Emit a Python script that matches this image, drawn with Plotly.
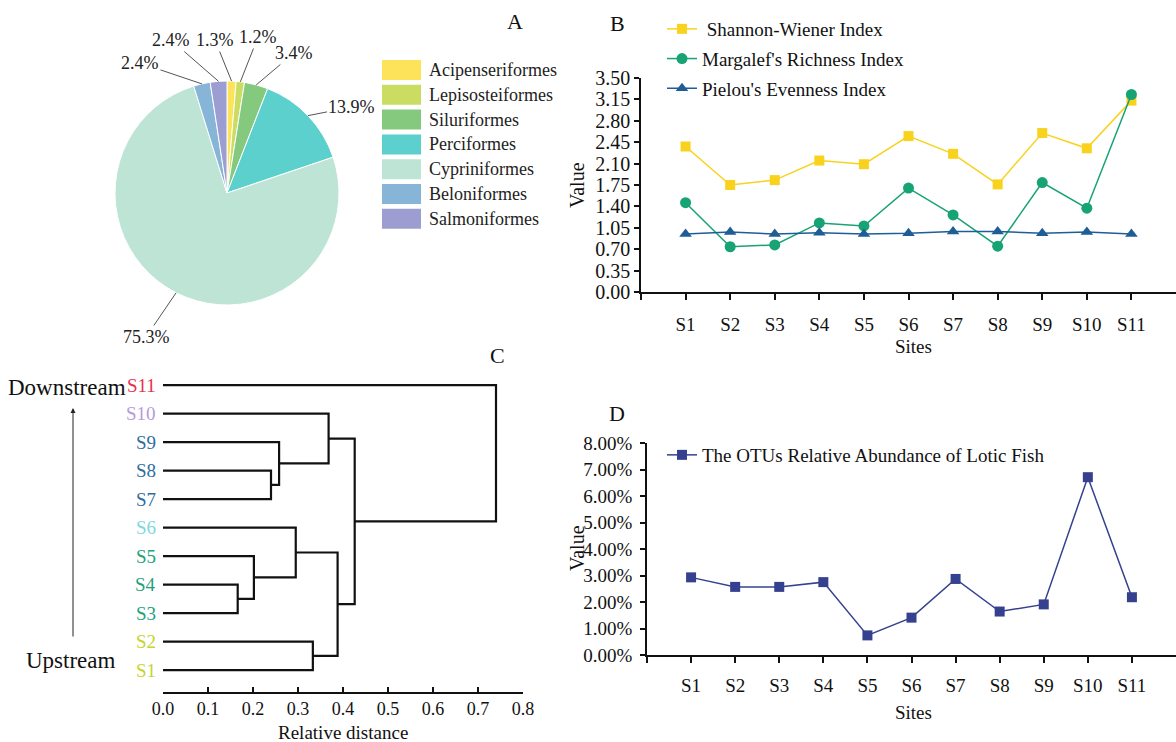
import math
import plotly.graph_objects as go

W, H = 1176, 742
FONT = "Liberation Serif"

# ---------------- data ----------------
# Panel A (pie)
orders = ["Acipenseriformes", "Lepisosteiformes", "Siluriformes", "Perciformes",
          "Cypriniformes", "Beloniformes", "Salmoniformes"]
order_pct = [1.3, 1.2, 3.4, 13.9, 75.3, 2.4, 2.4]
order_colors = ["#FDE35A", "#CADD62", "#85C97E", "#5BD0CD", "#BEE4D5", "#87B5D7", "#9C9ED1"]
# label text centre positions (px) for each slice label
label_pos = [(215, 40), (258, 37), (294, 53), (352, 107), (146, 337), (140, 63), (171, 40)]

# Panel B (diversity indices)
sites = ["S1", "S2", "S3", "S4", "S5", "S6", "S7", "S8", "S9", "S10", "S11"]
shannon = [2.38, 1.75, 1.83, 2.15, 2.09, 2.55, 2.26, 1.76, 2.60, 2.35, 3.13]
margalef = [1.46, 0.74, 0.77, 1.13, 1.08, 1.70, 1.26, 0.75, 1.79, 1.37, 3.23]
pielou = [0.95, 0.98, 0.95, 0.97, 0.95, 0.96, 0.99, 0.99, 0.96, 0.98, 0.95]
b_yticks = [0.00, 0.35, 0.70, 1.05, 1.40, 1.75, 2.10, 2.45, 2.80, 3.15, 3.50]

# Panel D (lotic fish relative abundance, fraction)
lotic = [0.0293, 0.0257, 0.0257, 0.0275, 0.0074, 0.0141, 0.0287, 0.0164, 0.0191, 0.0671, 0.0218]
d_yticks = [0.00, 0.01, 0.02, 0.03, 0.04, 0.05, 0.06, 0.07, 0.08]

# Panel C (dendrogram) linkage: [child a, child b, height]; leaves 0..10 = S1..S11
linkage = [
    [2, 3, 0.166],
    [11, 4, 0.202],
    [6, 7, 0.240],
    [13, 8, 0.258],
    [12, 5, 0.295],
    [0, 1, 0.333],
    [14, 9, 0.368],
    [16, 15, 0.388],
    [18, 17, 0.426],
    [19, 10, 0.740],
]
leaf_colors = ["#C6D430", "#C6D430", "#1DA27A", "#1DA27A", "#1DA27A", "#7ED9D9",
               "#2E6D9E", "#2E6D9E", "#2E6D9E", "#B69AE0", "#E8314F"]
c_xticks = [0.0, 0.1, 0.2, 0.3, 0.4, 0.5, 0.6, 0.7, 0.8]


def px(x):
    return x / W


def py(y):
    return 1 - y / H


fig = go.Figure()

# ---------------- Panel A: pie ----------------
cx, cy, R = 227, 193, 112
fig.add_trace(go.Pie(
    labels=orders, values=order_pct, sort=False, direction="clockwise", rotation=0,
    marker=dict(colors=order_colors, line=dict(color="white", width=1)),
    textinfo="none", hoverinfo="label+percent", showlegend=False,
    domain=dict(x=[px(cx - R), px(cx + R)], y=[py(cy + R), py(cy - R)]),
))

total = sum(order_pct)
cum = 0.0
annotations = []
for v, (tx, ty) in zip(order_pct, label_pos):
    theta = 2 * math.pi * (cum + v / 2) / total
    cum += v
    ex = cx + R * math.sin(theta)
    ey = cy - R * math.cos(theta)
    annotations.append(dict(
        x=px(ex), y=py(ey), xref="paper", yref="paper",
        ax=tx - ex, ay=ty - ey, text=f"{v:.1f}%", showarrow=True,
        arrowhead=0, arrowwidth=1, arrowcolor="#555555", standoff=0,
        font=dict(family=FONT, size=18, color="#222222"),
    ))

# pie legend (manual swatches)
shapes = []
for i, (name, col) in enumerate(zip(orders, order_colors)):
    y0 = 60 + i * 24.8
    shapes.append(dict(type="rect", xref="paper", yref="paper",
                       x0=px(382), x1=px(421), y0=py(y0 + 20), y1=py(y0),
                       fillcolor=col, line=dict(width=0)))
    annotations.append(dict(x=px(427), y=py(y0 + 10), xref="paper", yref="paper",
                            text=name, showarrow=False, xanchor="left", yanchor="middle",
                            font=dict(family=FONT, size=18, color="#222222")))

# ---------------- Panel B ----------------
xs = list(range(1, len(sites) + 1))
fig.add_trace(go.Scatter(x=xs, y=shannon, mode="lines+markers", name=" Shannon-Wiener Index",
                         line=dict(color="#F9D21E", width=1.5),
                         marker=dict(symbol="square", size=10, color="#F9D21E"),
                         xaxis="x2", yaxis="y2", legend="legend2", legendgroup="g1",
                         cliponaxis=False))
fig.add_trace(go.Scatter(x=xs, y=margalef, mode="lines+markers", name="Margalef's Richness Index",
                         line=dict(color="#17A373", width=1.5),
                         marker=dict(symbol="circle", size=11, color="#17A373"),
                         xaxis="x2", yaxis="y2", legend="legend2", legendgroup="g2",
                         cliponaxis=False))
fig.add_trace(go.Scatter(x=xs, y=pielou, mode="lines+markers", name="Pielou's Evenness Index",
                         line=dict(color="#1F5D97", width=1.5),
                         marker=dict(symbol="triangle-up", size=11, color="#1F5D97"),
                         xaxis="x2", yaxis="y2", legend="legend2", legendgroup="g3",
                         cliponaxis=False))

# ---------------- Panel D ----------------
fig.add_trace(go.Scatter(x=xs, y=lotic, mode="lines+markers",
                         name="The OTUs Relative Abundance of Lotic Fish",
                         line=dict(color="#35418F", width=1.5),
                         marker=dict(symbol="square", size=10, color="#35418F"),
                         xaxis="x3", yaxis="y3", legend="legend3", cliponaxis=False))

# ---------------- Panel C: dendrogram ----------------
n = len(sites)
node_x = [0.0] * n
node_y = [float(i + 1) for i in range(n)]
lx, ly = [], []
for a, b, h in linkage:
    a, b = int(a), int(b)
    lx += [node_x[a], h, h, node_x[b], None]
    ly += [node_y[a], node_y[a], node_y[b], node_y[b], None]
    node_x.append(h)
    node_y.append((node_y[a] + node_y[b]) / 2)
fig.add_trace(go.Scatter(x=lx, y=ly, mode="lines", line=dict(color="#111111", width=2.2),
                         xaxis="x", yaxis="y", showlegend=False, hoverinfo="skip",
                         cliponaxis=False))
for i, (s, col) in enumerate(zip(sites, leaf_colors)):
    annotations.append(dict(x=0, y=i + 1, xref="x", yref="y", text=s, showarrow=False,
                            xanchor="right", yanchor="middle", xshift=-5,
                            font=dict(family=FONT, size=19, color=col)))

# Downstream / Upstream + arrow
annotations.append(dict(x=px(128), y=py(387), xref="paper", yref="paper", text="Downstream",
                        showarrow=False, xanchor="right", yanchor="middle",
                        font=dict(family=FONT, size=23, color="#111111")))
annotations.append(dict(x=px(71), y=py(660), xref="paper", yref="paper", text="Upstream",
                        showarrow=False, xanchor="center", yanchor="middle",
                        font=dict(family=FONT, size=23, color="#111111")))
annotations.append(dict(x=px(73), y=py(408), xref="paper", yref="paper",
                        ax=0, ay=230, text="",
                        showarrow=True, arrowhead=2, arrowsize=1, arrowwidth=1,
                        arrowcolor="#222222"))

# panel letters and axis titles
for t, x, y in [("A", 515, 22), ("B", 617, 23), ("C", 497, 356), ("D", 617, 413)]:
    annotations.append(dict(x=px(x), y=py(y), xref="paper", yref="paper", text=t,
                            showarrow=False, xanchor="center", yanchor="middle",
                            font=dict(family=FONT, size=22, color="#111111")))
for t, x, y, ang in [("Value", 577, 185, -90), ("Sites", 913, 346, 0),
                     ("Value", 577, 548, -90), ("Sites", 913, 712, 0),
                     ("Relative distance", 343, 732, 0)]:
    annotations.append(dict(x=px(x), y=py(y), xref="paper", yref="paper", text=t,
                            textangle=ang, showarrow=False, xanchor="center",
                            yanchor="middle",
                            font=dict(family=FONT, size=20 if t == "Value" else 19,
                                      color="#111111")))

axis_base = dict(showgrid=False, zeroline=False, showline=True, linecolor="#111111",
                 linewidth=1.5, tickcolor="#111111", tickwidth=1.5, automargin=False)


def tf(size):
    return dict(family=FONT, size=size, color="#111111")


fig.update_layout(
    width=W, height=H, margin=dict(l=0, r=0, t=0, b=0, pad=0, autoexpand=False),
    paper_bgcolor="white", plot_bgcolor="white",
    font=dict(family=FONT, color="#111111"),
    xaxis=dict(domain=[px(163), px(523)], range=[0, 0.8], tickvals=c_xticks,
               ticktext=[f"{v:.1f}" for v in c_xticks], ticks="inside", ticklen=5,
               anchor="y", tickfont=tf(18), **axis_base),
    yaxis=dict(domain=[py(692), py(370)], range=[0.23, 11.53], visible=False, anchor="x"),
    xaxis2=dict(domain=[px(641), 1.0], range=[0, 12], tickvals=[0] + xs,
                ticktext=[""] + sites, ticks="outside", ticklen=6, ticklabelstandoff=8,
                anchor="y2", tickfont=tf(19), **axis_base),
    yaxis2=dict(domain=[py(292), py(78)], range=[0, 3.5], tickvals=b_yticks,
                ticktext=[f"{v:.2f}" for v in b_yticks], ticks="outside", ticklen=5,
                anchor="x2", tickfont=tf(20), **axis_base),
    xaxis3=dict(domain=[px(647), 1.0], range=[0, 12], tickvals=[0] + xs,
                ticktext=[""] + sites, ticks="outside", ticklen=6, ticklabelstandoff=6,
                anchor="y3", tickfont=tf(19), **axis_base),
    yaxis3=dict(domain=[py(655), py(443)], range=[0, 0.08], tickvals=d_yticks,
                tickformat=".2%", ticks="outside", ticklen=5, ticklabelstandoff=4,
                anchor="x3", tickfont=tf(19), **axis_base),
    legend2=dict(x=px(662), y=py(10), xanchor="left", yanchor="top",
                 bgcolor="rgba(0,0,0,0)", font=tf(19), itemwidth=30, tracegroupgap=2),
    legend3=dict(x=px(662), y=py(436), xanchor="left", yanchor="top",
                 bgcolor="rgba(0,0,0,0)", font=tf(19), itemwidth=30),
    annotations=annotations,
    shapes=shapes,
)

fig.write_html("out.html")
